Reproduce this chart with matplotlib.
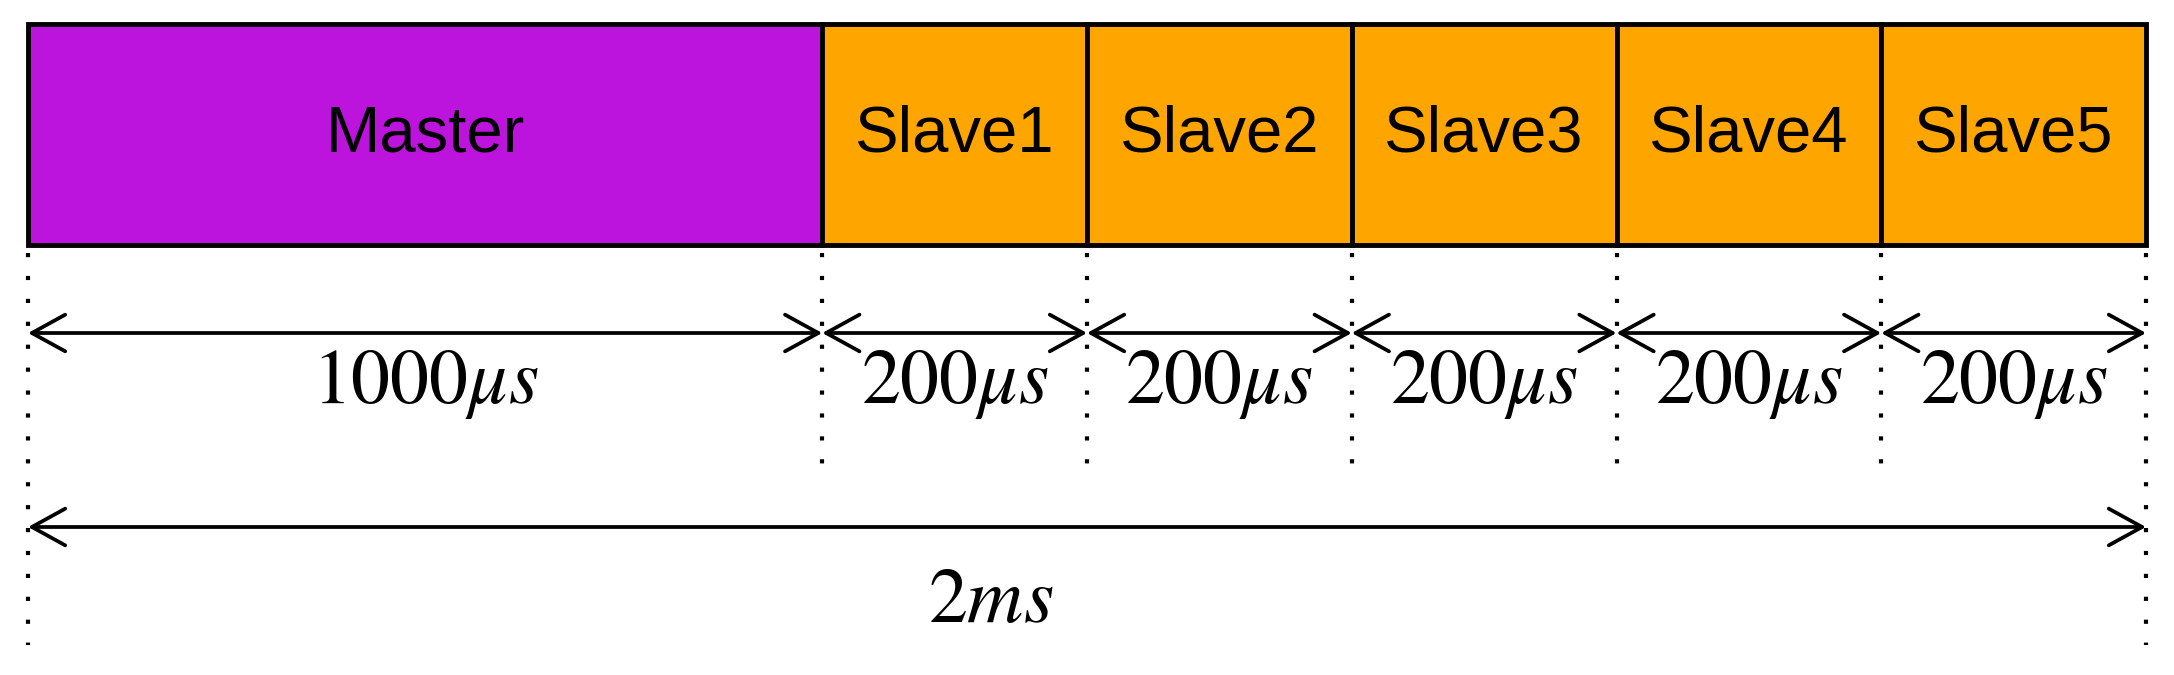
import matplotlib.pyplot as plt
from matplotlib.patches import Rectangle

plt.rcParams['mathtext.fontset'] = 'stix'

names = ["Master", "Slave1", "Slave2", "Slave3", "Slave4", "Slave5"]
durations_us = [1000, 200, 200, 200, 200, 200]
slot_units = [3, 1, 1, 1, 1, 1]          # drawn width of each slot
colors = ["#bd14dd", "#ffa500", "#ffa500", "#ffa500", "#ffa500", "#ffa500"]
total_label = "2ms"

fig = plt.figure(figsize=(21.74, 6.75), dpi=100)
ax = fig.add_axes([0, 0, 1, 1])
ax.set_xlim(0, 2174)
ax.set_ylim(675, 0)
ax.axis("off")

x0, x1 = 28, 2146
unit = (x1 - x0) / sum(slot_units)
top, bot = 24, 245
arrow_y, label_y = 333, 383
total_y, total_label_y = 527, 600

edges = [x0]
for u in slot_units:
    edges.append(edges[-1] + u * unit)

arrow_kw = dict(arrowstyle="<->,head_length=0.4,head_width=0.22",
                mutation_scale=60, lw=2.7, color="black", shrinkA=0, shrinkB=0)

for i, name in enumerate(names):
    a, b = edges[i], edges[i + 1]
    ax.add_patch(Rectangle((a, top), b - a, bot - top, facecolor=colors[i],
                           edgecolor="black", lw=3.5))
    ax.text((a + b) / 2, (top + bot) / 2, name, ha="center", va="center",
            fontsize=47, family="Liberation Sans")
    ax.annotate("", xy=(b, arrow_y), xytext=(a, arrow_y), arrowprops=arrow_kw)
    ax.text((a + b) / 2, label_y, r"$\mathrm{%d}\mu s$" % durations_us[i],
            ha="center", va="center", fontsize=56)

for i, x in enumerate(edges):
    y_end = 645 if i in (0, len(edges) - 1) else 464
    ax.plot([x, x], [bot + 8, y_end], color="black", lw=3,
            linestyle=(0, (1, 4.5)))

ax.annotate("", xy=(x1, total_y), xytext=(x0, total_y), arrowprops=arrow_kw)
ax.text(991, total_label_y, r"$\mathrm{2}ms$", ha="center",
        va="center", fontsize=56)

fig.savefig("out.png", dpi=100)
